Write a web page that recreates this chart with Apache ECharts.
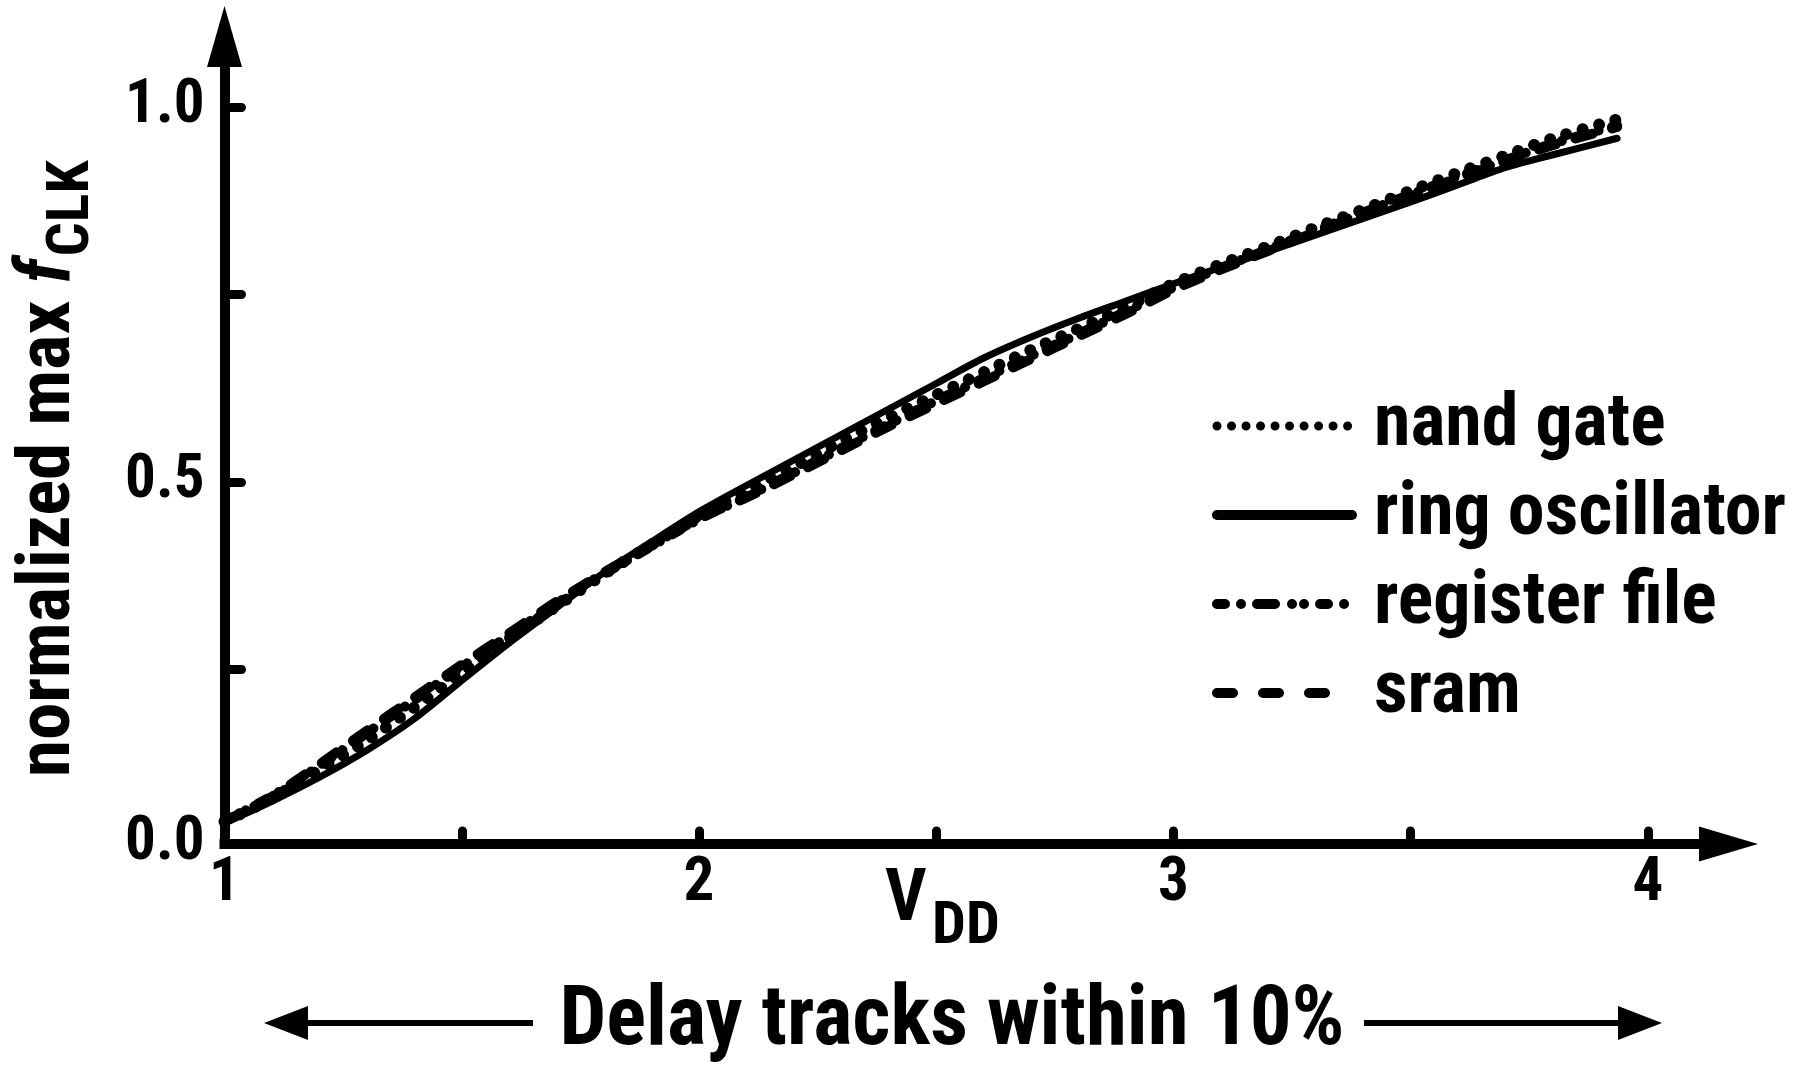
<!DOCTYPE html>
<html><head><meta charset="utf-8">
<script src="https://cdn.jsdelivr.net/npm/echarts@6/dist/echarts.min.js"></script>
<style>html,body{margin:0;padding:0;background:#fff}#c{width:1797px;height:1067px}</style>
</head><body><div id="c"></div>
<script>
// ---- data ----
const vdd          = [1.0, 1.1, 1.2, 1.3, 1.4, 1.5, 1.6, 1.7, 1.8, 1.9, 2.0, 2.1, 2.2, 2.3, 2.4, 2.5, 2.6, 2.7, 2.8, 2.9, 3.0, 3.1, 3.2, 3.3, 3.4, 3.5, 3.6, 3.7, 3.8, 3.935];
const nandGate     = [0.047, 0.078, 0.116, 0.155, 0.199, 0.245, 0.291, 0.334, 0.377, 0.416, 0.455, 0.488, 0.520, 0.554, 0.586, 0.616, 0.646, 0.676, 0.704, 0.733, 0.764, 0.790, 0.814, 0.839, 0.863, 0.888, 0.912, 0.935, 0.958, 0.983];
const ringOsc      = [0.045, 0.074, 0.106, 0.142, 0.184, 0.235, 0.285, 0.332, 0.379, 0.420, 0.460, 0.495, 0.529, 0.563, 0.597, 0.631, 0.665, 0.693, 0.718, 0.741, 0.764, 0.786, 0.807, 0.829, 0.851, 0.873, 0.896, 0.919, 0.936, 0.958];
const registerFile = [0.047, 0.081, 0.121, 0.165, 0.209, 0.253, 0.295, 0.338, 0.377, 0.414, 0.450, 0.480, 0.512, 0.545, 0.577, 0.608, 0.638, 0.668, 0.697, 0.727, 0.759, 0.785, 0.810, 0.835, 0.859, 0.883, 0.907, 0.929, 0.951, 0.975];
const sram         = [0.047, 0.080, 0.123, 0.168, 0.212, 0.256, 0.298, 0.340, 0.379, 0.415, 0.451, 0.479, 0.510, 0.542, 0.574, 0.604, 0.634, 0.664, 0.694, 0.724, 0.756, 0.783, 0.808, 0.833, 0.857, 0.881, 0.905, 0.927, 0.949, 0.973];
const seriesNames  = ['nand gate', 'ring oscillator', 'register file', 'sram'];
const xTickValues  = [1.5, 2, 2.5, 3, 3.5, 4];
const xLabelValues = [1, 2, 3, 4];
const yAxisMin     = 0.017;   // the drawn x-axis sits slightly above 0, labelled "0.0"
const yTickValues  = [0.25, 0.5, 0.75, 1.0];
const yLabelValues = [yAxisMin, 0.5, 1.0];
const yTitleMain = 'normalized max ';
const yTitleItalic = 'f';
const yTitleSub = 'CLK';
const xTitleMain = 'V';
const xTitleSub = 'DD';
const bottomNote = 'Delay tracks within 10%';

// ---- style ----
const FONT = '"Liberation Sans Narrow","Arial Narrow","Roboto Condensed","DejaVu Sans Condensed","Liberation Sans",sans-serif';
const BLACK = '#000';

const pairs = arr => vdd.map((x, i) => [x, arr[i]]);

function measure(text, size, style) {
  const c = document.createElement('canvas').getContext('2d');
  c.font = (style || '') + ' bold ' + size + 'px ' + FONT;
  return c.measureText(text).width;
}

const chart = echarts.init(document.getElementById('c'), null, {renderer: 'canvas'});

const axisCommon = {
  type: 'value',
  splitLine: {show: false},
  axisLine: {show: true, onZero: false, symbol: ['none', 'triangle'],
    lineStyle: {color: BLACK, width: 10, cap: 'square'}},
  axisLabel: {color: BLACK, fontSize: 61, fontWeight: 'bold', fontFamily: FONT}
};

const yMainSize = 75, ySubSize = 60;
const wMain = measure(yTitleMain, yMainSize);
const wF = measure(yTitleItalic, yMainSize, 'italic');
const hiddenSymbol = {color: 'rgba(0,0,0,0)', borderWidth: 0, opacity: 0};

const option = {
  backgroundColor: '#fff',
  animation: false,
  color: [BLACK, BLACK, BLACK, BLACK],
  grid: {left: 224.5, right: 68.5, top: 36.5, bottom: 223, containLabel: false, outerBoundsMode: 'none'},
  xAxis: Object.assign({}, axisCommon, {
    min: 1, max: 1 + (1728.5 - 224.5) / 474.5,
    axisLine: Object.assign({}, axisCommon.axisLine, {symbolSize: [35, 59]}),
    axisTick: {show: true, inside: true, length: 13, customValues: xTickValues,
      lineStyle: {color: BLACK, width: 9, cap: 'round'}},
    axisLabel: Object.assign({}, axisCommon.axisLabel, {customValues: xLabelValues, margin: 10,
      formatter: v => String(Math.round(v))})
  }),
  yAxis: Object.assign({}, axisCommon, {
    min: yAxisMin, max: yAxisMin + (844 - 36.5) / 750,
    axisLine: Object.assign({}, axisCommon.axisLine, {symbolSize: [35, 61]}),
    axisTick: {show: true, inside: true, length: 17, customValues: yTickValues,
      lineStyle: {color: BLACK, width: 9, cap: 'round'}},
    axisLabel: Object.assign({}, axisCommon.axisLabel, {customValues: yLabelValues, margin: 20,
      formatter: v => v.toFixed(1)})
  }),
  legend: {
    orient: 'vertical', left: 1212, top: 386, padding: 0,
    itemWidth: 135, itemHeight: 12, itemGap: 9, selectedMode: false,
    itemStyle: hiddenSymbol,
    textStyle: {color: BLACK, fontSize: 74, fontWeight: 'bold', fontFamily: FONT, lineHeight: 80, padding: [0, 0, 0, 17]},
    data: [
      {name: seriesNames[0], itemStyle: hiddenSymbol, lineStyle: {color: BLACK, width: 9, type: [0.01, 14.5], cap: 'round'}},
      {name: seriesNames[1], itemStyle: hiddenSymbol, lineStyle: {color: BLACK, width: 10, type: 'solid', cap: 'round'}},
      {name: seriesNames[2], itemStyle: hiddenSymbol, lineStyle: {color: BLACK, width: 10, type: [8, 16, 0.01, 16, 18, 17, 0.01, 12, 0.01, 16], cap: 'round'}},
      {name: seriesNames[3], itemStyle: hiddenSymbol, lineStyle: {color: BLACK, width: 10, type: [16, 30], cap: 'round'}}
    ]
  },
  series: [
    {name: seriesNames[2], type: 'line', data: pairs(registerFile), symbol: 'none', smooth: 0.3,
      itemStyle: {color: BLACK},
      lineStyle: {color: BLACK, width: 10, type: [10, 14, 0.01, 14], cap: 'round', join: 'round'}, z: 2},
    {name: seriesNames[3], type: 'line', data: pairs(sram), symbol: 'none', smooth: 0.3,
      itemStyle: {color: BLACK},
      lineStyle: {color: BLACK, width: 10, type: [18, 20], cap: 'round', join: 'round'}, z: 2},
    {name: seriesNames[0], type: 'line', data: pairs(nandGate), symbol: 'none', smooth: 0.3,
      itemStyle: {color: BLACK},
      lineStyle: {color: BLACK, width: 12, type: [0.01, 17], cap: 'round', join: 'round'}, z: 3},
    {name: seriesNames[1], type: 'line', data: pairs(ringOsc), symbol: 'none', smooth: 0.3,
      itemStyle: {color: BLACK},
      lineStyle: {color: BLACK, width: 7, type: 'solid', cap: 'round', join: 'round'}, z: 4}
  ],
  graphic: [
    // y-axis title (rotated)
    {type: 'group', x: 73, y: 777, rotation: Math.PI / 2, children: [
      {type: 'text', x: 0, y: -0.31 * yMainSize, style: {text: yTitleMain, fill: BLACK, font: 'bold ' + yMainSize + 'px ' + FONT, textAlign: 'left', textVerticalAlign: 'middle'}},
      {type: 'text', x: wMain, y: -0.31 * yMainSize, style: {text: yTitleItalic, fill: BLACK, font: 'italic bold ' + yMainSize + 'px ' + FONT, textAlign: 'left', textVerticalAlign: 'middle'}},
      {type: 'text', x: wMain + wF + 3, y: 19 - 0.31 * ySubSize, style: {text: yTitleSub, fill: BLACK, font: 'bold ' + ySubSize + 'px ' + FONT, textAlign: 'left', textVerticalAlign: 'middle'}}
    ]},
    // x-axis title V_DD
    {type: 'text', x: 885, y: 902, style: {text: xTitleMain, fill: BLACK, font: 'bold 72px ' + FONT, textAlign: 'left', textVerticalAlign: 'middle'}},
    {type: 'text', x: 932, y: 928, style: {text: xTitleSub, fill: BLACK, font: 'bold 60px ' + FONT, textAlign: 'left', textVerticalAlign: 'middle'}},
    // bottom note with arrows
    {type: 'text', x: 952, y: 1023, style: {text: bottomNote, fill: BLACK, font: 'bold 83px ' + FONT, textAlign: 'center', textVerticalAlign: 'middle'}},
    {type: 'line', shape: {x1: 300, y1: 1023, x2: 533, y2: 1023}, style: {stroke: BLACK, lineWidth: 6}},
    {type: 'polygon', shape: {points: [[264, 1023], [308, 1006], [308, 1040]]}, style: {fill: BLACK}},
    {type: 'line', shape: {x1: 1364, y1: 1023, x2: 1626, y2: 1023}, style: {stroke: BLACK, lineWidth: 6}},
    {type: 'polygon', shape: {points: [[1662, 1023], [1618, 1006], [1618, 1040]]}, style: {fill: BLACK}}
  ]
};
chart.setOption(option);
</script>
</body></html>
